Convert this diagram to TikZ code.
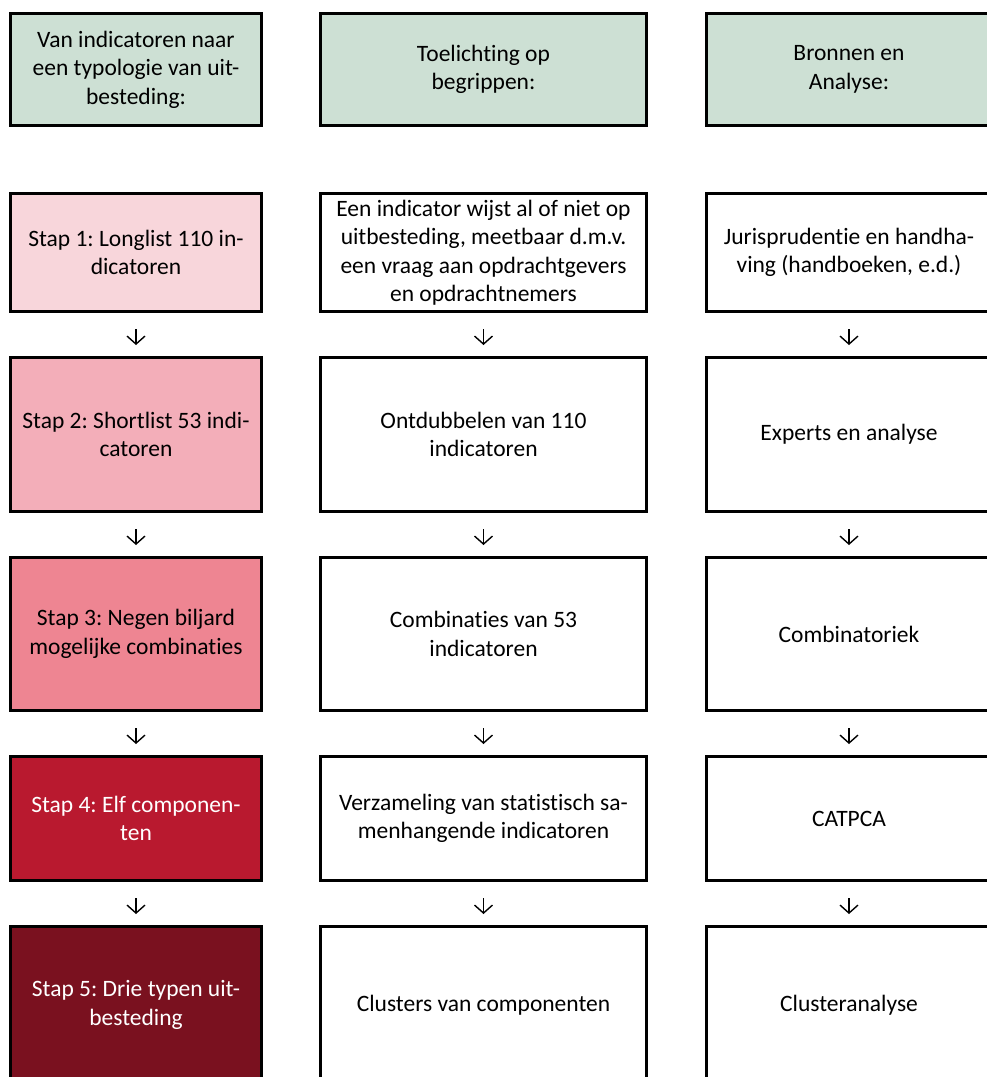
\documentclass[tikz,border=0pt]{standalone}
\usepackage{fontspec}
\setmainfont{Carlito}[Ligatures=NoCommon]
\usetikzlibrary{positioning,arrows.meta}
\definecolor{groen}{RGB}{205,224,212}
\definecolor{roze}{RGB}{248,214,219}
\definecolor{rozemid}{RGB}{243,174,185}
\definecolor{rozedonker}{RGB}{238,133,146}
\definecolor{rood}{RGB}{185,25,47}
\definecolor{bordeaux}{RGB}{122,17,31}
\tikzset{
  vak/.style={draw=black, line width=3pt, align=center, inner sep=4pt,
    font=\fontsize{23.5}{28.5}\selectfont},
  kol1/.style={vak, minimum width=251pt},
  kol2/.style={vak, minimum width=326pt},
  kol3/.style={vak, minimum width=285pt},
  pijl/.style={-{Straight Barb[length=8pt,width=18pt]}, line width=1.4pt,
    shorten <=16pt, shorten >=11pt}
}
\frenchspacing
\begin{document}
\begin{tikzpicture}[x=1pt, y=1pt, node distance=43pt]
        \useasboundingbox (0,0) rectangle (986,-1077);
        % kopjes
        \node[kol1, fill=groen, minimum height=112pt] (k1) at (136,-69.5)
          {Van indicatoren naar\\een typologie van uit-\\besteding:};
        \node[kol2, fill=groen, minimum height=112pt, right=56pt of k1] (k2)
          {Toelichting op\\begrippen:};
        \node[kol3, fill=groen, minimum height=112pt, right=57pt of k2] (k3)
          {Bronnen en\\Analyse:};
        % kolom 1: stappen
        \node[kol1, fill=roze, minimum height=118pt, below=65pt of k1] (s1)
          {Stap 1: Longlist 110 in-\\dicatoren};
        \node[kol1, fill=rozemid, minimum height=154pt, below=of s1] (s2)
          {Stap 2: Shortlist 53 indi-\\catoren};
        \node[kol1, fill=rozedonker, minimum height=153pt, below=of s2] (s3)
          {Stap 3: Negen biljard\\mogelijke combinaties};
        \node[kol1, fill=rood, text=white, minimum height=124pt, below=of s3] (s4)
          {Stap 4: Elf componen-\\ten};
        \node[kol1, fill=bordeaux, text=white, minimum height=157pt, below=of s4] (s5)
          {Stap 5: Drie typen uit-\\besteding};
        % kolom 2: toelichting
        \node[kol2, minimum height=118pt, below=65pt of k2] (t1)
          {Een indicator wijst al of niet op\\uitbesteding, meetbaar d.m.v.\\een vraag aan opdrachtgevers\\en opdrachtnemers};
        \node[kol2, minimum height=154pt, below=of t1] (t2)
          {Ontdubbelen van 110\\indicatoren};
        \node[kol2, minimum height=153pt, below=of t2] (t3)
          {Combinaties van 53\\indicatoren};
        \node[kol2, minimum height=124pt, below=of t3] (t4)
          {Verzameling van statistisch sa-\\menhangende indicatoren};
        \node[kol2, minimum height=157pt, below=of t4] (t5)
          {Clusters van componenten};
        % kolom 3: bronnen
        \node[kol3, minimum height=118pt, below=65pt of k3] (b1)
          {Jurisprudentie en handha-\\ving (handboeken, e.d.)};
        \node[kol3, minimum height=154pt, below=of b1] (b2)
          {Experts en analyse};
        \node[kol3, minimum height=153pt, below=of b2] (b3)
          {Combinatoriek};
        \node[kol3, minimum height=124pt, below=of b3] (b4)
          {CATPCA};
        \node[kol3, minimum height=157pt, below=of b4] (b5)
          {Clusteranalyse};
        % pijlen
        \draw[pijl] (s1) -- (s2); \draw[pijl] (s2) -- (s3); \draw[pijl] (s3) -- (s4); \draw[pijl] (s4) -- (s5);
        \draw[pijl] (t1) -- (t2); \draw[pijl] (t2) -- (t3); \draw[pijl] (t3) -- (t4); \draw[pijl] (t4) -- (t5);
        \draw[pijl] (b1) -- (b2); \draw[pijl] (b2) -- (b3); \draw[pijl] (b3) -- (b4); \draw[pijl] (b4) -- (b5);
      \end{tikzpicture}
\end{document}
